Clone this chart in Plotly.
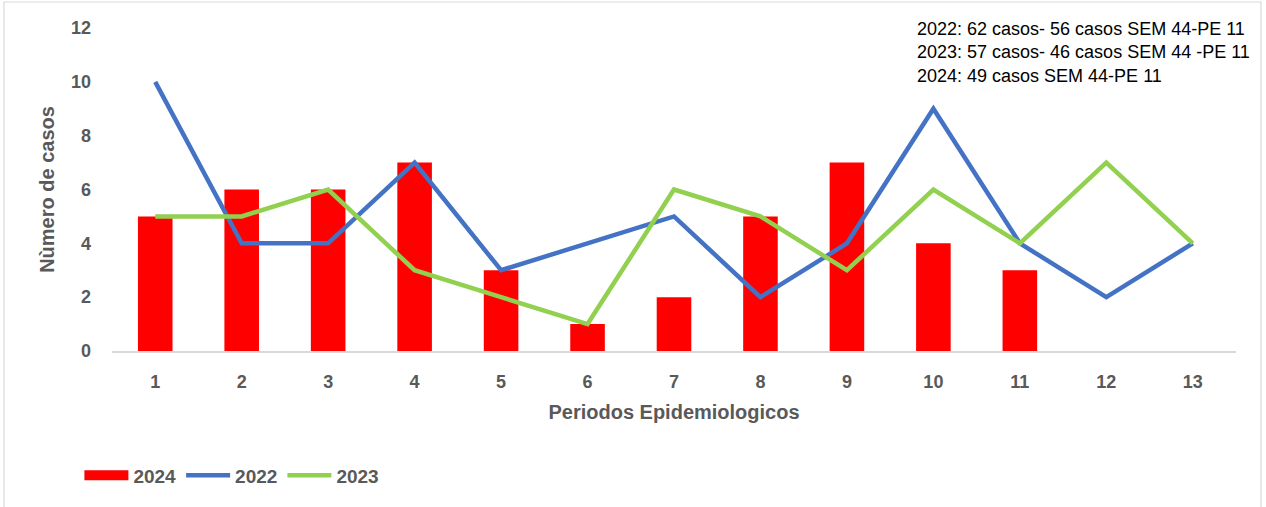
import plotly.graph_objects as go

periods = list(range(1, 14))
casos_2024 = [5, 6, 6, 7, 3, 1, 2, 5, 7, 4, 3]
casos_2022 = [10, 4, 4, 7, 3, 4, 5, 2, 4, 9, 4, 2, 4]
casos_2023 = [5, 5, 6, 3, 2, 1, 6, 5, 3, 6, 4, 7, 4]
note_lines = [
    "2022: 62 casos- 56 casos SEM 44-PE 11",
    "2023: 57 casos- 46 casos SEM 44 -PE 11",
    "2024: 49 casos SEM 44-PE 11",
]

FONT = "Liberation Sans"
GRAY = "#595959"
RED, BLUE, GREEN = "#FF0000", "#4472C4", "#92D050"

fig = go.Figure()
fig.add_trace(go.Bar(x=periods[:len(casos_2024)], y=casos_2024, name="2024",
                     marker=dict(color=RED, line=dict(width=0)), width=0.4,
                     showlegend=False))
# legend proxy for the bars (wide red swatch like the original)
fig.add_trace(go.Scatter(x=[None], y=[None], name="2024", mode="lines",
                         line=dict(color=RED, width=12)))
fig.add_trace(go.Scatter(x=periods, y=casos_2022, name="2022", mode="lines",
                         line=dict(color=BLUE, width=4.5)))
fig.add_trace(go.Scatter(x=periods, y=casos_2023, name="2023", mode="lines",
                         line=dict(color=GREEN, width=4.5)))

fig.update_layout(
    width=1266, height=507,
    margin=dict(l=112, r=30, t=28, b=156),
    paper_bgcolor="white", plot_bgcolor="white",
    font=dict(family=FONT, color=GRAY),
    showlegend=True,
    legend=dict(orientation="h", x=-0.029, y=-0.385, xanchor="left", yanchor="middle",
                font=dict(family=FONT, size=19, color=GRAY, weight="bold"),
                traceorder="normal", itemwidth=44),
    annotations=[dict(text="<br>".join(note_lines), xref="paper", yref="paper",
                      x=0.7144, y=1.035, xanchor="left", yanchor="top", align="left",
                      showarrow=False,
                      font=dict(family=FONT, size=18, color="black"))],
    shapes=[dict(type="rect", xref="paper", yref="paper",
                 x0=-0.0961, x1=1.0222, y0=-0.5, y1=1.0805,
                 line=dict(color="#D9D9D9", width=1.2), layer="below")],
)
fig.update_xaxes(range=[0.5, 13.5], tickmode="array", tickvals=periods,
                 ticks="", showgrid=False, showline=True, linecolor="#D9D9D9", linewidth=1.5,
                 tickfont=dict(family=FONT, size=18, color=GRAY, weight="bold"),
                 ticklabelstandoff=14,
                 title=dict(text="Periodos Epidemiologicos", standoff=14,
                            font=dict(family=FONT, size=20, color=GRAY, weight="bold")))
fig.update_yaxes(range=[0, 12], dtick=2, showgrid=False, zeroline=False, showline=False,
                 ticks="", tickfont=dict(family=FONT, size=18, color=GRAY, weight="bold"),
                 ticklabelstandoff=20,
                 title=dict(text="Nùmero de casos", standoff=10,
                            font=dict(family=FONT, size=20, color=GRAY, weight="bold")))

fig.write_html("out.html", config={"displayModeBar": False},
               post_script="document.body.style.margin='0';")
